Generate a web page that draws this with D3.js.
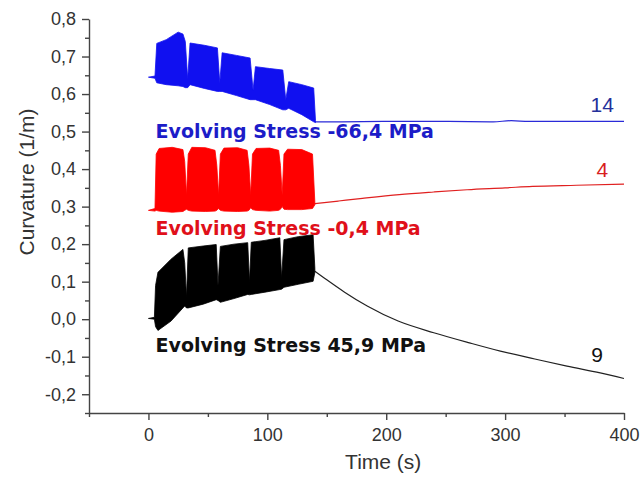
<!DOCTYPE html>
<html lang="en">
<head>
  <meta charset="UTF-8">
  <title>Curvature vs time</title>
  <script src="https://d3js.org/d3.v7.min.js"></script>
  <style>
    body {
      margin: 0;
      background: #fff;
      font-family: Arial, "Liberation Sans", sans-serif;
    }
    svg {
      display: block;
    }
  </style>
</head>
<body>
  <div id="chart"></div>

  <script>
    // axis ticks
    const xTicks = [0, 100, 200, 300, 400];
    const xMinor = [-50, 50, 150, 250, 350];
    const yTicks = [-0.2, -0.1, 0, 0.1, 0.2, 0.3, 0.4, 0.5, 0.6, 0.7, 0.8];
    const yMinor = [-0.25, -0.15, -0.05, 0.05, 0.15, 0.25, 0.35, 0.45, 0.55, 0.65, 0.75];

    // oscillating part of each record, as envelope [time, lower, upper]
    const blueBand = [
      [0, 0.645, 0.645], [5.5, 0.642, 0.648], [7, 0.63, 0.735], [15, 0.625, 0.745],
      [25, 0.622, 0.765], [29, 0.62, 0.76], [31, 0.617, 0.74], [33, 0.617, 0.64],
      [35, 0.625, 0.736], [47, 0.615, 0.73], [58, 0.607, 0.723], [60, 0.607, 0.63],
      [62, 0.607, 0.71], [74, 0.596, 0.703], [85.5, 0.585, 0.696], [88, 0.585, 0.61],
      [90, 0.585, 0.673], [102, 0.572, 0.668], [113, 0.558, 0.664], [115.5, 0.558, 0.585],
      [118, 0.562, 0.633], [129, 0.545, 0.625], [139, 0.526, 0.616], [140.5, 0.524, 0.53]
    ];
    const redBand = [
      [0, 0.29, 0.29], [5.5, 0.288, 0.295], [6.5, 0.29, 0.44], [9, 0.288, 0.455],
      [20, 0.285, 0.458], [29, 0.287, 0.452], [30.5, 0.29, 0.42], [32, 0.293, 0.33],
      [33.5, 0.29, 0.44], [36.5, 0.288, 0.458], [48, 0.287, 0.457], [56, 0.288, 0.45],
      [57.5, 0.29, 0.41], [59, 0.295, 0.33], [60.5, 0.29, 0.44], [63.5, 0.288, 0.456],
      [75, 0.287, 0.457], [83, 0.288, 0.45], [84.5, 0.29, 0.41], [86, 0.297, 0.33],
      [87.5, 0.292, 0.44], [90.5, 0.29, 0.455], [102, 0.288, 0.456], [109.5, 0.29, 0.45],
      [111, 0.293, 0.41], [112.5, 0.3, 0.33], [114, 0.293, 0.44], [117, 0.292, 0.453],
      [129, 0.292, 0.452], [138, 0.295, 0.44], [140, 0.305, 0.31]
    ];
    const blackBand = [
      [0, 0.002, 0.002], [5, 0, 0.005], [6, -0.02, 0.09], [8, -0.03, 0.125],
      [19, -0.005, 0.16], [29, 0.03, 0.186], [30.5, 0.035, 0.15], [32, 0.03, 0.06],
      [33.5, 0.03, 0.19], [46, 0.04, 0.195], [57, 0.052, 0.199], [58.5, 0.05, 0.09],
      [60.5, 0.045, 0.194], [72, 0.055, 0.2], [83.5, 0.066, 0.204], [85, 0.065, 0.1],
      [86.5, 0.066, 0.205], [98, 0.072, 0.21], [110.5, 0.079, 0.217], [112, 0.08, 0.11],
      [114, 0.085, 0.212], [126, 0.093, 0.22], [138.5, 0.101, 0.225], [140, 0.125, 0.135]
    ];

    // relaxation after the cycles, [time, curvature]
    const blueTail = [
      [140, 0.526], [160, 0.526], [200, 0.527], [250, 0.527], [290, 0.526],
      [305, 0.529], [320, 0.527], [350, 0.527], [400, 0.527]
    ];
    const redTail = [
      [140, 0.308], [160, 0.315], [180, 0.322], [211, 0.332], [240, 0.339],
      [268, 0.345], [300, 0.35], [323, 0.354], [360, 0.357], [400, 0.36]
    ];
    const blackTail = [
      [140, 0.128], [150, 0.105], [165, 0.072], [184, 0.035], [210, -0.005],
      [240, -0.036], [270, -0.063], [296, -0.085], [325, -0.106], [352, -0.125],
      [380, -0.143], [400, -0.158]
    ];

    const stressLabels = ["Evolving Stress -66,4 MPa", "Evolving Stress -0,4 MPa", "Evolving Stress 45,9 MPa"];
    const sampleIds = ["14", "4", "9"];

    const width = 641;
    const height = 479;

    const x = d3.scaleLinear().domain([-50, 400]).range([89, 624]);
    const y = d3.scaleLinear().domain([-0.25, 0.8]).range([413, 19]);

    const commaFmt = d3.formatLocale({
      decimal: ",", thousands: ".", grouping: [3], currency: ["", ""], minus: "-"
    }).format(".1f");

    const svg = d3.select("#chart")
      .append("svg")
      .attr("width", width)
      .attr("height", height);

    const series = [
      { band: blueBand, tail: blueTail, color: "#1010f0", tailColor: "#2a2ad8", text: "#1c1cc8", id: "#25309a" },
      { band: redBand, tail: redTail, color: "#ff0000", tailColor: "#e02020", text: "#e0101a", id: "#d81e1e" },
      { band: blackBand, tail: blackTail, color: "#000000", tailColor: "#222222", text: "#111111", id: "#111111" }
    ];

    const area = d3.area()
      .x(d => x(d[0]))
      .y0(d => y(d[1]))
      .y1(d => y(d[2]));

    const line = d3.line()
      .x(d => x(d[0]))
      .y(d => y(d[1]))
      .curve(d3.curveMonotoneX);

    series.forEach(s => {
      svg.append("path")
        .attr("d", line(s.tail))
        .attr("fill", "none")
        .attr("stroke", s.tailColor)
        .attr("stroke-width", 1.2);

      svg.append("path")
        .attr("d", area(s.band))
        .attr("fill", s.color)
        .attr("stroke", s.color)
        .attr("stroke-width", 0.8)
        .attr("stroke-linejoin", "round");
    });

    // axes
    svg.append("g")
      .attr("transform", `translate(0,${y(-0.25)})`)
      .call(d3.axisBottom(x).tickValues(xTicks).tickSize(7).tickSizeOuter(0).tickPadding(8).tickFormat(d3.format("d")));
    svg.append("g")
      .attr("transform", `translate(0,${y(-0.25)})`)
      .call(d3.axisBottom(x).tickValues(xMinor).tickSize(4).tickFormat(""))
      .call(g => g.select(".domain").remove());

    svg.append("g")
      .attr("transform", `translate(${x(-50)},0)`)
      .call(d3.axisLeft(y).tickValues(yTicks).tickSize(7).tickSizeOuter(0).tickPadding(6).tickFormat(commaFmt));
    svg.append("g")
      .attr("transform", `translate(${x(-50)},0)`)
      .call(d3.axisLeft(y).tickValues(yMinor).tickSize(4).tickFormat(""))
      .call(g => g.select(".domain").remove());

    svg.selectAll(".domain, .tick line")
      .attr("stroke", "#444")
      .attr("stroke-width", 1.4);
    svg.selectAll(".tick text")
      .attr("fill", "#333")
      .style("font-size", "18px")
      .style("font-family", "Arial, 'Liberation Sans', sans-serif");

    svg.append("text")
      .attr("x", x(200) - 3)
      .attr("y", 469)
      .attr("text-anchor", "middle")
      .attr("fill", "#333")
      .style("font-size", "21px")
      .text("Time (s)");

    svg.append("text")
      .attr("transform", `translate(34,${182}) rotate(-90)`)
      .attr("text-anchor", "middle")
      .attr("fill", "#333")
      .style("font-size", "21px")
      .text("Curvature (1/m)");

    // series annotations
    const labelY = [0.483, 0.224, -0.0875];
    const idY = [0.552, 0.379, -0.114];
    const idX = [381.7, 381.7, 377.3];

    svg.selectAll("text.stress")
      .data(stressLabels)
      .enter()
      .append("text")
      .attr("class", "stress")
      .attr("x", x(6))
      .attr("y", (d, i) => y(labelY[i]))
      .attr("fill", (d, i) => series[i].text)
      .style("font-family", "'DejaVu Sans', Verdana, sans-serif")
      .style("font-weight", "bold")
      .style("font-size", "19px")
      .text(d => d);

    svg.selectAll("text.sid")
      .data(sampleIds)
      .enter()
      .append("text")
      .attr("class", "sid")
      .attr("x", (d, i) => x(idX[i]))
      .attr("y", (d, i) => y(idY[i]))
      .attr("text-anchor", "middle")
      .attr("fill", (d, i) => series[i].id)
      .style("font-size", "21px")
      .text(d => d);
  </script>
</body>
</html>
